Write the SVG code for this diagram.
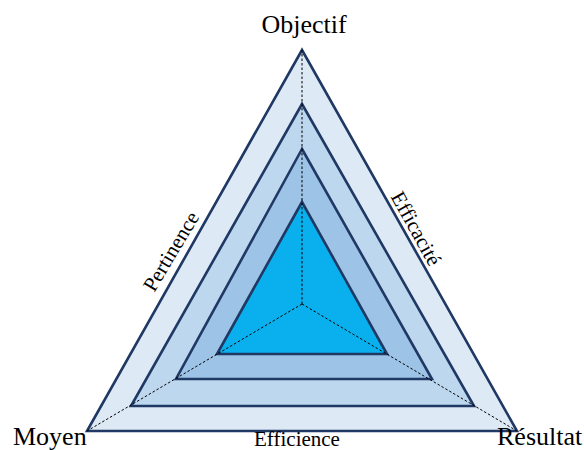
<svg xmlns="http://www.w3.org/2000/svg" width="584" height="450" viewBox="0 0 584 450">
  <style>
    .tri { stroke: #1f3864; stroke-width: 2.6; stroke-linejoin: miter; }
    .dash { stroke: #000; stroke-width: 1; stroke-dasharray: 2.5 2; fill: none; }
    .lbl { font-family: "Liberation Serif", "Times New Roman", serif; fill: #000; }
    .big { font-size: 26px; }
    .small { font-size: 21px; }
  </style>
  <rect width="584" height="450" fill="#fff"/>
  <g id="triangles">
    <polygon id="t1" class="tri" fill="#dee9f6" points="302,50 87,431 517,431"/>
    <polygon id="t2" class="tri" fill="#bdd7ee" points="302,104 131,406 474,406"/>
    <polygon id="t3" class="tri" fill="#9dc3e6" points="302,149 176,379 432,379"/>
    <polygon id="t4" class="tri" fill="#0ab0ee" points="302,202 217,354 387,354"/>
  </g>
  <g id="connectors">
    <line class="dash" x1="302" y1="304" x2="302" y2="50"/>
    <line class="dash" x1="302" y1="304" x2="87" y2="431"/>
    <line class="dash" x1="302" y1="304" x2="517" y2="431"/>
  </g>
  <g id="objectif"><text class="lbl big" x="304" y="33" text-anchor="middle">Objectif</text></g>
  <g id="moyen"><text class="lbl big" x="13" y="445">Moyen</text></g>
  <g id="resultat"><text class="lbl big" x="497" y="445">Résultat</text></g>
  <g id="pertinence"><text class="lbl small" text-anchor="middle" transform="translate(177,255) rotate(-59)">Pertinence</text></g>
  <g id="efficacite"><text class="lbl small" text-anchor="middle" transform="translate(410,232) rotate(61)">Efficacité</text></g>
  <g id="efficience"><text class="lbl small" x="297" y="446" text-anchor="middle" font-size="20">Efficience</text></g>
</svg>
